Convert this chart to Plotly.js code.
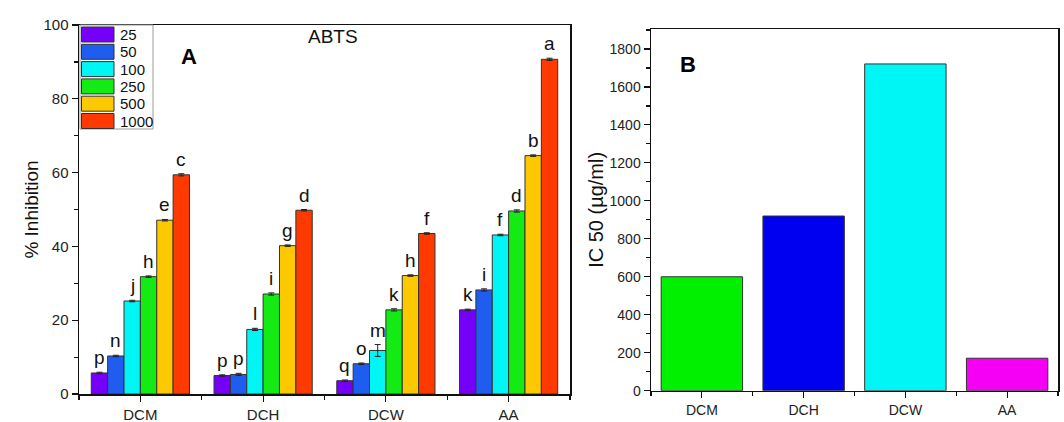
<!DOCTYPE html>
<html>
<head>
<meta charset="utf-8">
<script src="https://cdn.plot.ly/plotly-3.0.1.min.js"></script>
<style>html,body{margin:0;padding:0;background:#fff;}#chart{width:1064px;height:422px;}</style>
</head>
<body>
<div id="chart"></div>
<script>
// ---- Data ----
const categories = ['DCM', 'DCH', 'DCW', 'AA'];
const concentrations = ['25', '50', '100', '250', '500', '1000'];
const inh25 = [5.7, 5.0, 3.6, 22.8];
const inh50 = [10.3, 5.3, 8.2, 28.2];
const inh100 = [25.2, 17.5, 11.8, 43.1];
const inh250 = [31.8, 27.1, 22.8, 49.6];
const inh500 = [47.1, 40.2, 32.1, 64.6];
const inh1000 = [59.4, 49.8, 43.5, 90.7];
const err25 = [0.2, 0.2, 0.2, 0.2];
const err50 = [0.2, 0.3, 0.2, 0.3];
const err100 = [0.2, 0.3, 1.6, 0.2];
const err250 = [0.2, 0.3, 0.3, 0.3];
const err500 = [0.2, 0.2, 0.2, 0.2];
const err1000 = [0.3, 0.2, 0.2, 0.3];
const let25 = ['p', 'p', 'q', 'k'];
const let50 = ['n', 'p', 'o', 'i'];
const let100 = ['j', 'l', 'm', 'f'];
const let250 = ['h', 'i', 'k', 'd'];
const let500 = ['e', 'g', 'h', 'b'];
const let1000 = ['c', 'd', 'f', 'a'];
const concColors = ['#7400f8', '#1f5cf0', '#00f5f5', '#14eb14', '#fcc800', '#ff3a00'];
const ic50 = [600, 920, 1721, 171];
const ic50Colors = ['#00f000', '#0000f0', '#00f5f5', '#f500f5'];

const series = [inh25, inh50, inh100, inh250, inh500, inh1000];
const errs = [err25, err50, err100, err250, err500, err1000];
const lets = [let25, let50, let100, let250, let500, let1000];
const xIdx = categories.map((c, i) => i);

const W = 1064, H = 422;
const px = v => v / W, py = v => 1 - v / H;
const FONT = 'Liberation Sans, Arial, sans-serif';
const BARGAP = 0.2;

const traces = series.map((vals, k) => ({
  type: 'bar', x: xIdx, y: vals, name: concentrations[k],
  xaxis: 'x', yaxis: 'y',
  marker: {color: concColors[k], line: {color: '#333', width: 1}},
  error_y: {type: 'data', array: errs[k], visible: true, color: '#222', thickness: 1, width: 3},
  showlegend: false, hoverinfo: 'x+y'
}));

traces.push({
  type: 'bar', x: xIdx, y: ic50, xaxis: 'x2', yaxis: 'y2',
  marker: {color: ic50Colors, line: {color: '#333', width: 1}},
  showlegend: false
});

const axisCommon = {
  showline: true, linecolor: '#111', linewidth: 1.5, mirror: true,
  ticks: 'outside', tickcolor: '#111', tickwidth: 1.2, ticklen: 6,
  showgrid: false, zeroline: false, fixedrange: true,
  tickfont: {family: FONT, size: 15, color: '#222'}
};

const shapes = [];
const annotations = [];

// significance letters above each bar (group position from bar layout)
const nSeries = series.length;
const slot = (1 - BARGAP) / nSeries;
series.forEach((vals, k) => {
  vals.forEach((v, i) => {
    annotations.push({
      xref: 'x', yref: 'y',
      x: xIdx[i] - (1 - BARGAP) / 2 + (k + 0.5) * slot,
      y: v + errs[k][i],
      text: lets[k][i], showarrow: false,
      xanchor: 'center', yanchor: 'bottom', yshift: 2,
      font: {family: FONT, size: 19, color: '#111'}
    });
  });
});

// custom legend (large swatches like the original)
shapes.push({type: 'rect', xref: 'paper', yref: 'paper', x0: px(80), x1: px(153), y0: py(129), y1: py(25),
  line: {color: '#9a9a9a', width: 1}, fillcolor: 'rgba(255,255,255,0)', layer: 'above'});
concentrations.forEach((c, k) => {
  const top = 27 + k * 17.3;
  shapes.push({type: 'rect', xref: 'paper', yref: 'paper', x0: px(81.5), x1: px(114), y0: py(top + 15), y1: py(top),
    fillcolor: concColors[k], line: {color: '#333', width: 1}, layer: 'above'});
  annotations.push({xref: 'paper', yref: 'paper', x: px(118), y: py(top + 7.5), text: c, showarrow: false,
    xanchor: 'left', yanchor: 'middle', font: {family: FONT, size: 15, color: '#111'}});
});
annotations.push({xref: 'paper', yref: 'paper', x: px(333), y: py(37), text: 'ABTS', showarrow: false,
  xanchor: 'center', yanchor: 'middle', font: {family: FONT, size: 19, color: '#111'}});
annotations.push({xref: 'paper', yref: 'paper', x: px(189), y: py(56), text: '<b>A</b>', showarrow: false,
  xanchor: 'center', yanchor: 'middle', font: {family: FONT, size: 22, color: '#000'}});
annotations.push({xref: 'paper', yref: 'paper', x: px(688), y: py(65), text: '<b>B</b>', showarrow: false,
  xanchor: 'center', yanchor: 'middle', font: {family: FONT, size: 22, color: '#000'}});

const layout = {
  width: W, height: H,
  margin: {l: 0, r: 0, t: 0, b: 0},
  paper_bgcolor: '#ffffff', plot_bgcolor: '#ffffff',
  barmode: 'group', bargap: BARGAP, bargroupgap: 0,
  showlegend: false,
  xaxis: Object.assign({}, axisCommon, {
    domain: [px(79), px(570)], range: [-0.5, 3.5], anchor: 'y',
    tickvals: xIdx, ticktext: categories,
    minor: {dtick: 0.5, tick0: -0.5, ticks: 'outside', ticklen: 4, tickcolor: '#111', tickwidth: 1.2}
  }),
  yaxis: Object.assign({}, axisCommon, {
    domain: [py(394), py(25)], range: [0, 100], anchor: 'x', dtick: 20,
    minor: {dtick: 10, ticks: 'outside', ticklen: 4, tickcolor: '#111', tickwidth: 1.2},
    title: {text: '% Inhibition', font: {family: FONT, size: 19, color: '#111'}, standoff: 0}
  }),
  xaxis2: Object.assign({}, axisCommon, {
    domain: [px(651), px(1058)], range: [-0.5, 3.5], anchor: 'y2',
    tickvals: xIdx, ticktext: categories,
    tickfont: {family: FONT, size: 14, color: '#222'},
    minor: {dtick: 0.5, tick0: -0.5, ticks: 'outside', ticklen: 4, tickcolor: '#111', tickwidth: 1.2}
  }),
  yaxis2: Object.assign({}, axisCommon, {
    domain: [py(390.7), py(29)], range: [0, 1905], anchor: 'x2', dtick: 200,
    tickfont: {family: FONT, size: 14, color: '#222'},
    minor: {dtick: 100, ticks: 'outside', ticklen: 4, tickcolor: '#111', tickwidth: 1.2},
    title: {text: 'IC 50 (µg/ml)', font: {family: FONT, size: 20, color: '#111'}, standoff: 0}
  }),
  shapes: shapes,
  annotations: annotations
};

Plotly.newPlot('chart', traces, layout, {staticPlot: true, displayModeBar: false});
</script>
</body>
</html>
